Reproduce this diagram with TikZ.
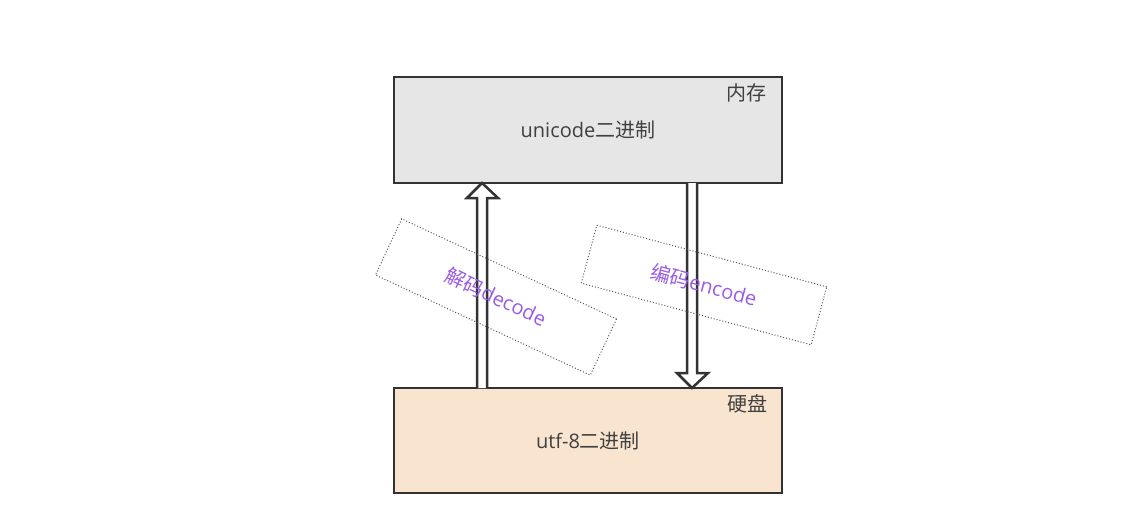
\documentclass[tikz,border=0pt]{standalone}
\usepackage{fontspec}
\setmainfont{Open Sans}
\newfontfamily\cjk{Noto Sans CJK SC}
\usetikzlibrary{positioning,calc}
\definecolor{boxline}{HTML}{333333}
\definecolor{memfill}{HTML}{E6E6E6}
\definecolor{diskfill}{HTML}{F9E5CF}
\definecolor{txtgray}{HTML}{404040}
\definecolor{codepurple}{HTML}{9A5AE8}
\definecolor{dotgray}{HTML}{555555}

\begin{document}
\begin{tikzpicture}[
        font=\fontsize{20}{24}\selectfont,
        store/.style={rectangle, draw=boxline, line width=2.5pt, outer sep=0pt, minimum width=388pt, text=txtgray},
        corner/.style={anchor=north east, inner sep=0pt, text=txtgray},
        hollow/.style={draw=boxline, fill=white, line width=2.5pt, line join=miter},
        codebox/.style={rectangle, draw=dotgray, line width=1pt, dash pattern=on 1pt off 2pt, text=codepurple}]
        \useasboundingbox (0,0) rectangle (1146pt,-525pt);

        \node[store, fill=memfill, minimum height=106pt] (mem) at (588pt,-130pt) {unicode{\cjk 二进制}};
        \node[store, fill=diskfill, minimum height=105pt, below=205pt of mem] (disk) {utf-8{\cjk 二进制}};
        \node[corner] (memtag) at ([xshift=-15pt,yshift=-6pt]mem.north east) {\cjk 内存};
        \node[corner] (disktag) at ([xshift=-14pt,yshift=-6pt]disk.north east) {\cjk 硬盘};

        \draw[hollow] ($(disk.north)+(-111pt,0)$) -- ++(0,190pt) -- ++(-10pt,0) -- ($(mem.south)+(-106pt,0)$) -- ++(16pt,-15pt) -- ++(-11pt,0) -- ++(0,-190pt);
        \draw[hollow] ($(mem.south)+(99pt,0)$) -- ++(0,-190pt) -- ++(-10pt,0) -- ($(disk.north)+(104pt,0)$) -- ++(16pt,15pt) -- ++(-11pt,0) -- ++(0,190pt);

        \node[codebox, rotate=-25, minimum width=237pt, minimum height=62pt] (dec) at (496pt,-297pt) {{\cjk 解码}decode};
        \node[codebox, rotate=-15, minimum width=238pt, minimum height=60pt] (enc) at (704pt,-285pt) {{\cjk 编码}encode};
    \end{tikzpicture}
\end{document}
